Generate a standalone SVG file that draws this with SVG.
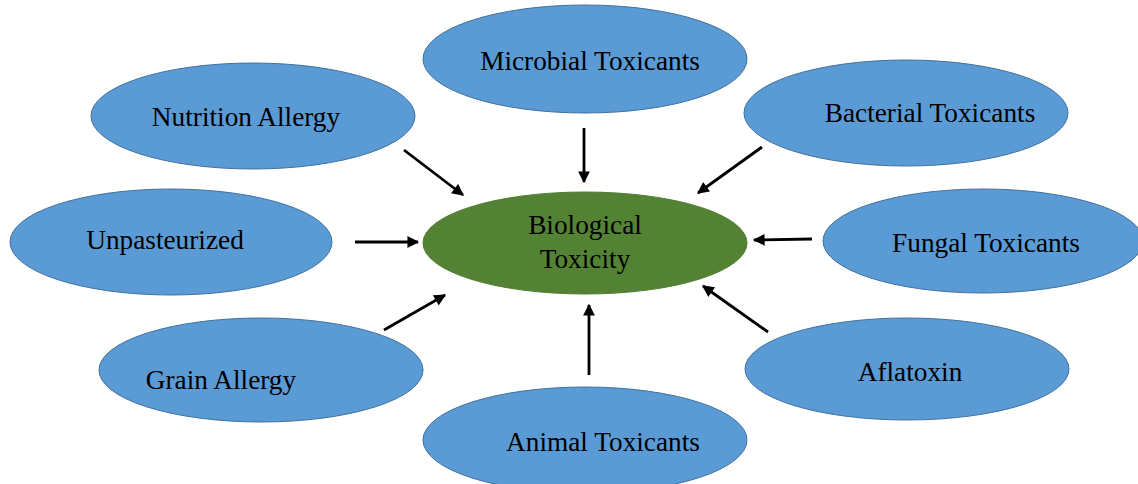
<svg xmlns="http://www.w3.org/2000/svg" width="1138" height="484" viewBox="0 0 1138 484">
<style>
.n{fill:#5B9BD5;stroke:#41719C;stroke-width:1}
.c{fill:#548235;stroke:#507E32;stroke-width:1}
text{font-family:"Liberation Serif","Times New Roman",serif;font-size:27.3px;fill:#000;text-anchor:middle}
.e{stroke:#000;stroke-width:2.8;fill:none;marker-end:url(#ah)}
</style>
<defs>
<marker id="ah" viewBox="0 0 10 10" refX="9" refY="5" markerWidth="4.6" markerHeight="4.2" orient="auto" markerUnits="strokeWidth">
<path d="M0,0 L10,5 L0,10 Z" fill="#000"/>
</marker>
</defs>
<rect width="1138" height="484" fill="#fff"/>
<g id="n-microbial"><ellipse class="n" cx="585" cy="59" rx="162" ry="54"/><text x="590" y="70">Microbial Toxicants</text></g>
<g id="n-nutrition"><ellipse class="n" cx="253" cy="116" rx="162" ry="53"/><text x="246" y="126">Nutrition Allergy</text></g>
<g id="n-bacterial"><ellipse class="n" cx="906" cy="113" rx="162" ry="53"/><text x="930" y="122">Bacterial Toxicants</text></g>
<g id="n-unpasteurized"><ellipse class="n" cx="171" cy="242" rx="161" ry="53"/><text x="165" y="249">Unpasteurized</text></g>
<g id="n-fungal"><ellipse class="n" cx="983" cy="241" rx="160" ry="52"/><text x="986" y="252">Fungal Toxicants</text></g>
<g id="n-grain"><ellipse class="n" cx="261" cy="370" rx="162" ry="52"/><text x="221" y="389">Grain Allergy</text></g>
<g id="n-aflatoxin"><ellipse class="n" cx="907" cy="369" rx="162" ry="51"/><text x="910" y="381">Aflatoxin</text></g>
<g id="n-animal"><ellipse class="n" cx="585" cy="440" rx="162" ry="53"/><text x="603" y="451">Animal Toxicants</text></g>
<g id="n-center"><ellipse class="c" cx="585" cy="243" rx="162" ry="51"/><text x="585" y="234">Biological</text><text x="585" y="268">Toxicity</text></g>
<g id="connectors">
<line class="e" x1="404" y1="150" x2="463" y2="195"/>
<line class="e" x1="584" y1="128" x2="584" y2="182"/>
<line class="e" x1="762" y1="147" x2="698" y2="193"/>
<line class="e" x1="355" y1="242" x2="418" y2="242"/>
<line class="e" x1="812" y1="239" x2="754" y2="240"/>
<line class="e" x1="384" y1="330" x2="445" y2="295"/>
<line class="e" x1="589" y1="375" x2="589" y2="305"/>
<line class="e" x1="768" y1="332" x2="703" y2="286"/>
</g>
</svg>
